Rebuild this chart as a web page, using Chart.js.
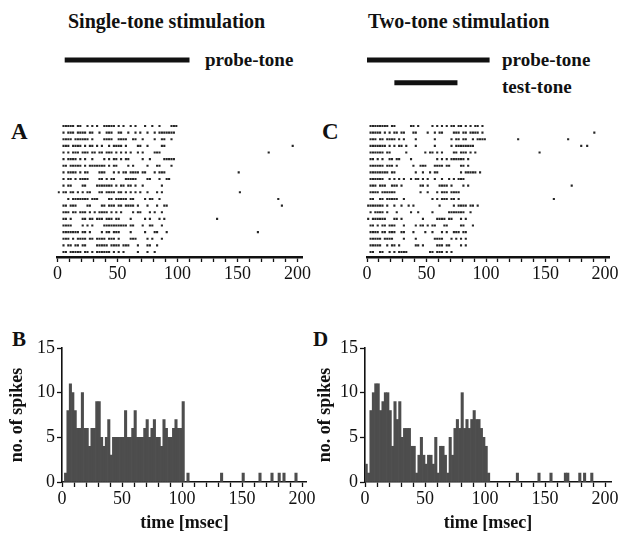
<!DOCTYPE html>
<html>
<head>
<meta charset="utf-8">
<script src="https://cdn.jsdelivr.net/npm/chart.js@4.4.1/dist/chart.umd.min.js"></script>
<style>
  body { margin: 0; background: #fff; width: 622px; height: 539px; position: relative; overflow: hidden; font-family: 'Liberation Serif', 'Times New Roman', serif; }
  canvas { position: absolute; }
  .t { position: absolute; font-weight: bold; white-space: nowrap; line-height: 1; color: #111; }
</style>
</head>
<body>
<div class="t" style="left:68px;top:11px;font-size:20px">Single-tone stimulation</div>
<div class="t" style="left:368px;top:11px;font-size:20px">Two-tone stimulation</div>
<div class="t" style="left:205px;top:50px;font-size:19px">probe-tone</div>
<div class="t" style="left:502px;top:50px;font-size:19px">probe-tone</div>
<div class="t" style="left:502px;top:77px;font-size:19px">test-tone</div>
<div class="t" style="left:11px;top:120px;font-size:23px">A</div>
<div class="t" style="left:322px;top:120px;font-size:23px">C</div>
<div class="t" style="left:12px;top:329px;font-size:21px">B</div>
<div class="t" style="left:313px;top:329px;font-size:21px">D</div>

<canvas id="rasterA" width="330" height="247" style="left:0;top:40px"></canvas>
<canvas id="rasterC" width="312" height="247" style="left:310px;top:40px"></canvas>
<canvas id="psthB" width="330" height="209" style="left:0;top:330px"></canvas>
<canvas id="psthD" width="312" height="209" style="left:310px;top:330px"></canvas>

<script>
// time axis (msec)
const minorTicks = [0, 10, 20, 30, 40, 50, 60, 70, 80, 90, 100, 110, 120, 130, 140, 150, 160, 170, 180, 190, 200];
const timeLabels = [0, 50, 100, 150, 200];
const countTicks = [0, 5, 10, 15];
const binWidth = 2;

// stimulus durations [start, end] in msec
const probeSingle = [6, 110];
const probeTwo = [0, 103];
const testTwo = [23, 76];

// raster rows, one char per 2 ms bin from 0 ms ('x' = spike)
const rasterA = [
  "..xxxxx.xx..x.x.x..xxxxx.x.x..x.x...x..x..x....xxx.",
  "..x.xxx.xxxx.xx..x..xxx..xx..x..x.x..x..x.xxxxxxx.",
  "..xxxx.xxxxxx.x....xxxx..xxxx..xx..x....x..xx..x..",
  "..xxx.xxxx.x.xx.x.x..x.xxxx.x....xx..x.....xx.....",
  "..x.x.xxx.xxx.xx.xx.xxx.x.x.x.x..x.x....xxx.......",
  "..x.xxxx.x.x..x....x.x.xx.x.xx.....x..x.....xxxxx.",
  "..xx.xxxxx.x.xxxxxxx.x.xx....x.x.....x...xx....x..",
  "..x.xxxx.x.xx....xxx...x.x.xx.xxxx.xx...x.xxx.....",
  "..x.xx.x.xxxx....xx.x.xx....xxxxx....xx...x..xx...",
  "..x.xx....xx....xxxxxxx.x.xx.xx.x..x.......x......",
  "x.xx.xx.x.x.xx...xx.xxxx.xx.x.x.x.x..x...x.x......",
  "....x.xxxxxxx.xxx....xx.xxxxx.xx....x.xx..x.......",
  "..xx.xxx....xx....xx.xxx.xx.xxxx.x...x...x..xx....",
  "..xxx.xx.xxx.x.x.xxxx.x.x.x....x.xx...x.x..x......",
  "..xx.x....xx.xx.xxx.xxx.xx....x.....x.x...x.x.....",
  "..xxxx....x.x.x....xxxxxxxxxx.xx...x..xx...x......",
  "..xxxxxxx.xx.x....x.xx.xxx....x.....x...xx...x....",
  "..xxx.x.xxxx.xx.xxxx.xxx.x....xxx....x.x...x......",
  "..x.xx.xx.xx....xxxxx.xxxx.xxx...x...xx..x........",
  "..xx.xxxxx.xx.x.xxxxxx.x.x.x.....x...x..x........."
];
const lateTrialA = [4, 5, 8, 11, 12, 13, 15, 17];
const lateTimeA = [196, 176, 151, 152, 184, 187, 133, 167];

const rasterC = [
  ".xxxxxxxx.xx......xx.x.....x.x.x.x.xx.xx.x.x.xx.x.",
  ".xxxxx.x.x.xx.xx...xx....x..x.xx....xxx.xx.xxxx.x.",
  ".xxx.xx.xxxx.x.x....x.......x......x.xx.xx..x.xxxx.",
  ".xxxxxxx.x.x.xx.x...x.......x......x.xxxxxxxx.....",
  ".xxxxxx.xx......x.......x.xx.x.x....xx.xxx.x.x....",
  ".xx.x.x..xx.xx....x..........x.x.x.xxxxxx.x.......",
  ".xxxxxx.xxx.x......x..xxx...xxxx.xx....xx.x......",
  ".xxxxxxxx.xx........x..x..x.xx.........x.xxxxx.x.",
  ".xxxxxx..x.x.x.x..x.xx.x.x..x..x..x.x.xxx........",
  ".xxx.xxx..xxx.x.......xx.x....xxxx.x....x.x......",
  ".xxxx.xxxxxx..........x..x...x.xxx.xxxx..........",
  ".xx..xx.xxxxx..x...........x.x.xxx.xx.x..........",
  "xxxxxxx.x..x..x..x.x..........x.....x.xxxx.xx.x...",
  ".x.xxxx.x...x.....x..x.....x......xxxxxxx..x......",
  "x.xxxxxx...xx.x........x.....xxxx.xx...x.x.......",
  ".xx.x.xx.xxx...x....x.xx.x.xx...xx.....xx...x....",
  ".xxxx.xx.xxx..xx...x....x..x...x.x..xxx.xx.......",
  ".xxxxx.xxxx....x....x.......xxxx...x.x.x.x.......",
  ".xxxxx..x.xx.x......xx.x.....xxx.xx....x.x.......",
  ".xx..xx..x.x.xxxx.........xx.xxx.x.x............."
];
const lateTrialC = [2, 3, 3, 4, 4, 5, 10, 12];
const lateTimeC = [191, 127, 169, 180, 185, 145, 172, 157];

// PSTH counts per 2 ms bin from 0 ms, plus later single-spike bins (bin start, msec)
const countsB = [0, 1, 8, 11, 10, 8, 6, 6, 10, 6, 6, 4, 6, 6, 9, 9, 5, 4, 5, 7, 3, 5, 5, 5, 5, 5,
  8, 5, 5, 6, 8, 5, 5, 5, 6, 7, 5, 6, 7, 5, 5, 4, 7, 6, 5, 5, 6, 7, 6, 6, 9, 0, 1];
const lateB = [132, 150, 164, 174, 180, 184, 194];
const countsD = [2, 1, 8, 10, 11, 11, 8, 9, 10, 10, 8, 4, 9, 7, 9, 5, 6, 6, 6, 4, 4, 1, 3, 5, 3, 2,
  3, 3, 2, 5, 1, 4, 4, 3, 1, 5, 3, 6, 7, 6, 10, 6, 7, 6, 7, 8, 7, 7, 6, 5, 4, 1];
const lateD = [126, 144, 154, 166, 168, 178, 182, 188];

const serif = "'Liberation Serif', 'Times New Roman', serif";
Chart.defaults.font.family = serif;
Chart.defaults.color = '#111';
Chart.defaults.animation = false;
Chart.defaults.plugins.legend.display = false;
Chart.defaults.plugins.tooltip.enabled = false;

const ink = '#111';

function fixBox(prop, size) {
  return s => {
    s[prop] = size;
    s.paddingLeft = 0; s.paddingRight = 0; s.paddingTop = 0; s.paddingBottom = 0;
  };
}

function timeAxis(max, height, borderWidth, withTitle) {
  return {
    type: 'linear', min: 0, max: max, offset: false,
    afterBuildTicks: s => { s.ticks = minorTicks.map(v => ({ value: v })); },
    afterFit: fixBox('height', height),
    border: { color: ink, width: borderWidth },
    grid: { drawOnChartArea: false, offset: false, tickLength: 5, tickColor: ink, tickWidth: 1.3 },
    ticks: {
      autoSkip: false, maxRotation: 0, padding: 1, color: ink, font: { family: serif, size: 18 },
      callback: v => timeLabels.includes(v) ? String(v) : ''
    },
    title: {
      display: withTitle, text: 'time [msec]', color: ink, padding: 0,
      font: { family: serif, size: 18, weight: 'bold' }
    }
  };
}

function rasterPoints(rows, lateTrials, lateTimes) {
  const pts = [];
  rows.forEach((r, k) => {
    for (let i = 0; i < r.length; i++) {
      if (r[i] === 'x') pts.push({ x: i * binWidth + 1, y: k + 1 });
    }
  });
  lateTrials.forEach((tr, j) => pts.push({ x: lateTimes[j], y: tr }));
  return pts;
}

function stimLine(span, row) {
  return {
    type: 'line',
    data: [{ x: span[0], y: row }, { x: span[1], y: row }],
    borderColor: ink, borderWidth: 5, borderCapStyle: 'butt',
    pointRadius: 0, showLine: true
  };
}

const probeRow = -8.95, testRow = -5.5;

function raster(id, rows, lateTrials, lateTimes, stims, pad) {
  new Chart(document.getElementById(id), {
    type: 'scatter',
    data: {
      datasets: [{
        data: rasterPoints(rows, lateTrials, lateTimes),
        pointStyle: 'rect', pointRadius: 1.5, pointBorderWidth: 0,
        backgroundColor: '#262626'
      }].concat(stims)
    },
    options: {
      responsive: false,
      layout: { padding: pad },
      scales: {
        x: timeAxis(204, 30, 2.5, false),
        y: { display: false, reverse: true, min: -11.2, max: 20.75 }
      }
    }
  });
}

function psthPoints(counts, late) {
  const pts = counts.map((c, i) => ({ x: i * binWidth + binWidth / 2, y: c }));
  late.forEach(t => pts.push({ x: t + binWidth / 2, y: 1 }));
  return pts;
}

function psth(id, counts, late, maxT, yWidth, pad) {
  new Chart(document.getElementById(id), {
    type: 'bar',
    data: {
      datasets: [{
        data: psthPoints(counts, late),
        backgroundColor: '#4d4d4d', borderWidth: 0,
        barPercentage: 1, categoryPercentage: 1
      }]
    },
    options: {
      responsive: false,
      layout: { padding: pad },
      scales: {
        x: timeAxis(maxT, 51.8, 1.6, true),
        y: {
          min: 0, max: 15,
          afterBuildTicks: s => { s.ticks = countTicks.map(v => ({ value: v })); },
          afterFit: fixBox('width', yWidth),
          border: { color: ink, width: 1.6 },
          grid: { drawOnChartArea: false, tickLength: 5, tickColor: ink, tickWidth: 1.3 },
          ticks: { padding: 2, color: ink, font: { family: serif, size: 18 } },
          title: {
            display: true, text: 'no. of spikes', color: ink, padding: 0,
            font: { family: serif, size: 18, weight: 'bold' }
          }
        }
      }
    }
  });
}

raster('rasterA', rasterA, lateTrialA, lateTimeA,
  [stimLine(probeSingle, probeRow)],
  { left: 57.5, top: 5, right: 27.7, bottom: 0 });
raster('rasterC', rasterC, lateTrialC, lateTimeC,
  [stimLine(probeTwo, probeRow), stimLine(testTwo, testRow)],
  { left: 57, top: 5, right: 12.2, bottom: 0 });
psth('psthB', countsB, lateB, 204, 55.3, { left: 6.7, top: 18, right: 23.2, bottom: 5.2 });
psth('psthD', countsD, lateD, 205, 50.8, { left: 4.2, top: 18, right: 11, bottom: 5.2 });
</script>
</body>
</html>
